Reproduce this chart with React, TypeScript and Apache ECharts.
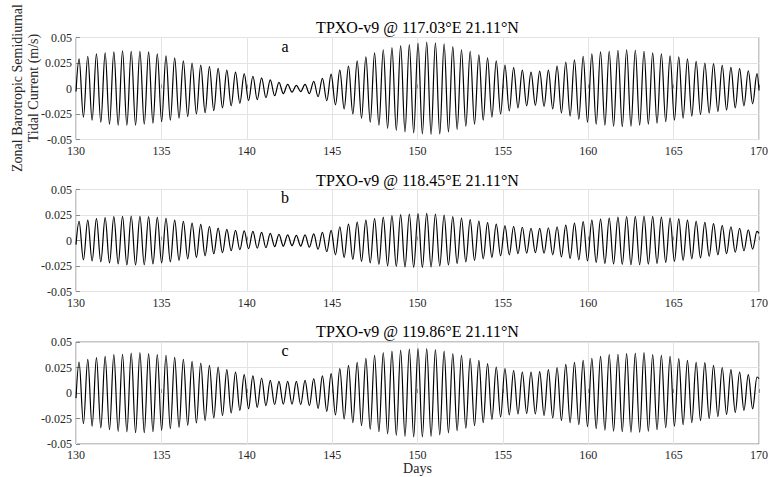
import React, { useEffect, useRef } from "react";
import * as echarts from "echarts";

// ---- axes / labels ----
const dayMin = 130;
const dayMax = 170;
const dayStep = 5;
const valMin = -0.05;
const valMax = 0.05;
const valStep = 0.025;
const dayTicks = [130, 135, 140, 145, 150, 155, 160, 165, 170];
const valTicks = [-0.05, -0.025, 0, 0.025, 0.05];
const valTickLabels = ["-0.05", "-0.025", "0", "0.025", "0.05"];
const titles = [
  "TPXO-v9 @ 117.03°E 21.11°N",
  "TPXO-v9 @ 118.45°E 21.11°N",
  "TPXO-v9 @ 119.86°E 21.11°N",
];
const panelLetters = ["a", "b", "c"];
const yAxisTitle = "Zonal Barotropic Semidiurnal\nTidal Current (m/s)";
const xAxisTitle = "Days";

// ---- crest timing ----
const firstCrestDay = 130.18; // day of first crest
const crestSpacing = 0.509; // days between successive crests

// ---- panel a: crest and trough values, m/s ----
const crestsA = [
  0.029, 0.0316, 0.0339, 0.035, 0.036, 0.037, 0.0365, 0.0365, 0.036, 0.034, 0.032, 0.03, 0.027, 0.025, 0.023, 0.0215, 0.0197, 0.018, 0.016, 0.0145, 0.012,
  0.0105, 0.0085, 0.006, 0.004, 0.003, 0.004, 0.007, 0.01, 0.014, 0.018, 0.022, 0.027, 0.031, 0.035, 0.038, 0.04, 0.042, 0.043, 0.0445, 0.0455,
  0.0447, 0.0437, 0.041, 0.038, 0.0365, 0.033, 0.03, 0.027, 0.023, 0.0205, 0.018, 0.016, 0.017, 0.018, 0.022, 0.026, 0.028, 0.0316, 0.034, 0.036,
  0.0365, 0.0375, 0.038, 0.0375, 0.0365, 0.035, 0.034, 0.032, 0.031, 0.029, 0.0266, 0.025, 0.0243, 0.0227, 0.0207, 0.0194, 0.0174, 0.0145,
];
const troughsA = [
  -0.028, -0.031, -0.033, -0.035, -0.036, -0.036, -0.036, -0.035, -0.034, -0.0325, -0.031, -0.029, -0.0276, -0.025, -0.0237, -0.0217, -0.019, -0.017, -0.0145, -0.012,
  -0.011, -0.009, -0.007, -0.005, -0.0035, -0.003, -0.005, -0.008, -0.012, -0.016, -0.02, -0.025, -0.029, -0.033, -0.036, -0.039, -0.041, -0.0425, -0.0435, -0.0445,
  -0.045, -0.0445, -0.0425, -0.04, -0.037, -0.035, -0.031, -0.028, -0.025, -0.022, -0.019, -0.017, -0.0165, -0.0175, -0.02, -0.024, -0.027, -0.03, -0.033, -0.035,
  -0.036, -0.037, -0.0375, -0.037, -0.036, -0.035, -0.034, -0.0325, -0.031, -0.029, -0.027, -0.0255, -0.024, -0.0225, -0.021, -0.019, -0.017, -0.015,
];
const edgesA = [-0.003, -0.002];

// ---- panel b ----
const crestsB = [
  0.0188, 0.02, 0.0214, 0.0224, 0.0234, 0.0237, 0.024, 0.0237, 0.0234, 0.0227, 0.0217, 0.02, 0.0188, 0.017, 0.0158, 0.0138, 0.0122, 0.011, 0.01, 0.0095, 0.009,
  0.008, 0.007, 0.006, 0.0055, 0.005, 0.0055, 0.0065, 0.008, 0.01, 0.0135, 0.016, 0.018, 0.02, 0.0215, 0.023, 0.0245, 0.0253, 0.026, 0.0263, 0.0265,
  0.026, 0.025, 0.0235, 0.022, 0.0205, 0.019, 0.0175, 0.016, 0.0145, 0.0138, 0.013, 0.012, 0.0118, 0.0125, 0.0135, 0.015, 0.017, 0.0185, 0.02, 0.021,
  0.022, 0.023, 0.0234, 0.0237, 0.024, 0.0237, 0.023, 0.022, 0.0212, 0.02, 0.0188, 0.0178, 0.0165, 0.0148, 0.0135, 0.012, 0.0105, 0.009,
];
const troughsB = [
  -0.019, -0.02, -0.021, -0.022, -0.023, -0.024, -0.024, -0.0237, -0.023, -0.022, -0.021, -0.0195, -0.018, -0.0165, -0.015, -0.013, -0.012, -0.01, -0.009, -0.008,
  -0.0075, -0.007, -0.006, -0.0055, -0.005, -0.0055, -0.0065, -0.0085, -0.011, -0.014, -0.0165, -0.0185, -0.0205, -0.022, -0.0235, -0.0248, -0.0255, -0.026, -0.0263, -0.0265,
  -0.026, -0.025, -0.024, -0.0225, -0.021, -0.0195, -0.018, -0.0165, -0.015, -0.014, -0.013, -0.0125, -0.012, -0.0125, -0.014, -0.016, -0.0175, -0.019, -0.02, -0.0215,
  -0.0225, -0.023, -0.0235, -0.0237, -0.0237, -0.0233, -0.0225, -0.0215, -0.0205, -0.0195, -0.018, -0.017, -0.0155, -0.014, -0.013, -0.0115, -0.01, -0.0085,
];
const edgesB = [-0.004, 0.007];

// ---- panel c ----
const crestsC = [
  0.0304, 0.033, 0.0346, 0.036, 0.0376, 0.038, 0.039, 0.0395, 0.0386, 0.0376, 0.037, 0.035, 0.033, 0.031, 0.0294, 0.027, 0.0255, 0.023, 0.0206, 0.018, 0.0167,
  0.0147, 0.0124, 0.0114, 0.0114, 0.0114, 0.0124, 0.014, 0.0167, 0.019, 0.024, 0.027, 0.03, 0.034, 0.037, 0.0395, 0.041, 0.042, 0.043, 0.0435, 0.0435,
  0.0425, 0.041, 0.0386, 0.037, 0.034, 0.032, 0.0288, 0.0255, 0.024, 0.022, 0.0206, 0.0206, 0.021, 0.023, 0.025, 0.028, 0.03, 0.032, 0.034, 0.036,
  0.0376, 0.038, 0.0386, 0.039, 0.0395, 0.0376, 0.037, 0.036, 0.0337, 0.032, 0.03, 0.0297, 0.027, 0.025, 0.023, 0.0206, 0.018, 0.0157,
];
const troughsC = [
  -0.03, -0.0324, -0.0343, -0.036, -0.0376, -0.0382, -0.0389, -0.0389, -0.038, -0.0366, -0.035, -0.0337, -0.0317, -0.0294, -0.027, -0.0245, -0.022, -0.0196, -0.017, -0.0154,
  -0.014, -0.0125, -0.0115, -0.011, -0.011, -0.0115, -0.0125, -0.015, -0.018, -0.0215, -0.0255, -0.029, -0.032, -0.0355, -0.038, -0.04, -0.0415, -0.0425, -0.043, -0.043,
  -0.0425, -0.041, -0.039, -0.037, -0.0345, -0.032, -0.029, -0.026, -0.0235, -0.0215, -0.0205, -0.02, -0.0205, -0.022, -0.0245, -0.027, -0.029, -0.031, -0.033, -0.035,
  -0.0365, -0.0375, -0.038, -0.0385, -0.0385, -0.0375, -0.036, -0.034, -0.0325, -0.031, -0.029, -0.027, -0.025, -0.023, -0.021, -0.019, -0.017, -0.0155,
];
const edgesC = [-0.005, 0.014];

const panels = [
  { crests: crestsA, troughs: troughsA, edges: edgesA },
  { crests: crestsB, troughs: troughsB, edges: edgesB },
  { crests: crestsC, troughs: troughsC, edges: edgesC },
];

function buildWave(crests: number[], troughs: number[], edges: number[]) {
  const pts: [number, number][] = [[dayMin, edges[0]]];
  for (let k = 0; k < crests.length; k++) {
    const t = firstCrestDay + k * crestSpacing;
    pts.push([t, crests[k]]);
    if (k < troughs.length) pts.push([t + crestSpacing / 2, troughs[k]]);
  }
  pts.push([dayMax, edges[1]]);
  return pts;
}

const FONT = "Liberation Serif";
const TXT = "#262626";
const FRAME = "#8a8a8a";
const GRID_TOPS = [37.5, 189.5, 342];
const GRID_H = 102;
const GRID_L = 76;
const GRID_W = 683;

export default function App() {
  const ref = useRef<HTMLDivElement>(null);
  useEffect(() => {
    if (!ref.current) return;
    const chart = echarts.init(ref.current, undefined, { renderer: "svg" });
    const grids = GRID_TOPS.map((top) => ({
      left: GRID_L,
      top,
      width: GRID_W,
      height: GRID_H,
      show: true,
      borderColor: FRAME,
      borderWidth: 1,
      backgroundColor: "#fff",
    }));
    const xAxes = GRID_TOPS.map((_, i) => ({
      type: "value",
      gridIndex: i,
      min: dayMin,
      max: dayMax,
      interval: dayStep,
      axisLine: { show: false },
      axisTick: { show: true, inside: true, length: 4, lineStyle: { color: FRAME } },
      axisLabel: { show: false },
      splitLine: { show: true, lineStyle: { color: "#e3e3e3", width: 1 } },
    }));
    const yAxes = GRID_TOPS.map((_, i) => ({
      type: "value",
      gridIndex: i,
      min: valMin,
      max: valMax,
      interval: valStep,
      axisLine: { show: false },
      axisTick: { show: true, inside: true, length: 4, lineStyle: { color: FRAME } },
      axisLabel: { show: false },
      splitLine: { show: true, lineStyle: { color: "#e3e3e3", width: 1 } },
    }));
    const series = panels.map((p, i) => ({
      type: "line",
      xAxisIndex: i,
      yAxisIndex: i,
      data: buildWave(p.crests, p.troughs, p.edges),
      showSymbol: false,
      symbol: "none",
      smooth: 0.36,
      smoothMonotone: "x",
      lineStyle: { color: "#000", width: 1.2 },
      clip: true,
    }));
    chart.setOption({
      animation: false,
      backgroundColor: "#fff",
      grid: grids,
      xAxis: xAxes,
      yAxis: yAxes,
      series,
    });

    const titleBaselines = [33.3, 185.7, 337.3];
    const letterBaselines = [51.7, 203.3, 355.7];
    const graphics: any[] = [];
    const txt = (x: number, y: number, text: string, size: number, align: string, valign: string, fill = TXT, extra: any = {}) => ({
      type: "text",
      x,
      y,
      silent: true,
      ...extra,
      style: { text, fontFamily: FONT, fontSize: size, fill, textAlign: align, textVerticalAlign: valign, ...(extra.style || {}) },
    });
    // tick labels positioned through each panel's own axes
    GRID_TOPS.forEach((_, i) => {
      const finder = { xAxisIndex: i, yAxisIndex: i };
      dayTicks.forEach((d) => {
        const p = chart.convertToPixel(finder, [d, valMin]) as number[];
        graphics.push(txt(p[0], p[1] + 5, String(d), 12, "center", "top"));
      });
      valTicks.forEach((v, j) => {
        const p = chart.convertToPixel(finder, [dayMin, v]) as number[];
        graphics.push(txt(p[0] - 4, p[1], valTickLabels[j], 12, "right", "middle"));
      });
    });
    titles.forEach((t, i) => {
      graphics.push(txt(GRID_L + GRID_W / 2, titleBaselines[i] - 0.34 * 16, t, 16, "center", "middle", "#000"));
      graphics.push(txt(285, letterBaselines[i] - 0.34 * 16, panelLetters[i], 16, "center", "middle", "#000"));
    });
    graphics.push({
      type: "text",
      x: 25,
      y: 88,
      rotation: Math.PI / 2,
      silent: true,
      style: {
        text: yAxisTitle,
        fontFamily: FONT,
        fontSize: 14,
        lineHeight: 16,
        fill: TXT,
        textAlign: "center",
        textVerticalAlign: "middle",
      },
    });
    graphics.push(txt(417.5, 473.3 - 0.34 * 14, xAxisTitle, 14, "center", "middle"));
    chart.setOption({ graphic: graphics });
    return () => chart.dispose();
  }, []);
  return <div ref={ref} style={{ position: "fixed", left: 0, top: 0, width: 768, height: 477, background: "#fff" }} />;
}
